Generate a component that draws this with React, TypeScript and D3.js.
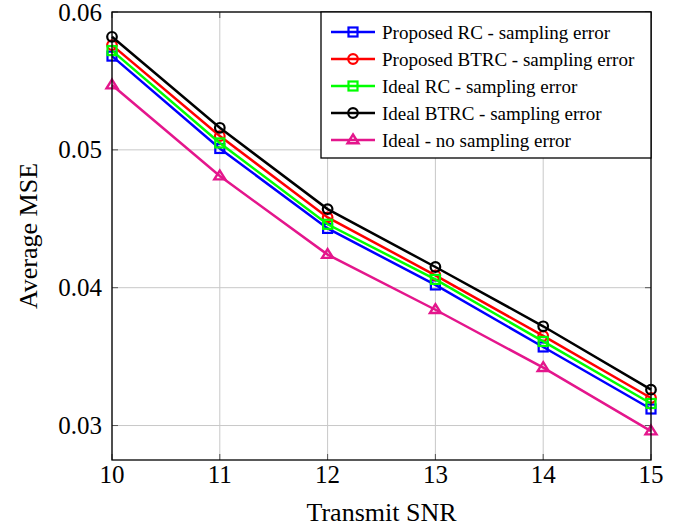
import React from "react";
import * as d3 from "d3";

// Transmit SNR values on the x axis
const snr = [10, 11, 12, 13, 14, 15];

// Average MSE readings per curve
const proposedRC = [0.0568, 0.0501, 0.0443, 0.0402, 0.0357, 0.0312];
const proposedBTRC = [0.0576, 0.051, 0.0451, 0.0409, 0.0365, 0.032];
const idealRC = [0.0572, 0.0505, 0.0446, 0.0406, 0.0361, 0.0316];
const idealBTRC = [0.0582, 0.0516, 0.0457, 0.0415, 0.0372, 0.0326];
const idealNoError = [0.0547, 0.0481, 0.0424, 0.0384, 0.0342, 0.0296];

const xTicks = [10, 11, 12, 13, 14, 15];
const yTicks = [0.03, 0.04, 0.05, 0.06];

const series = [
  { name: "Proposed RC - sampling error", values: proposedRC, color: "#0000ff", marker: "square" },
  { name: "Proposed BTRC - sampling error", values: proposedBTRC, color: "#ff0000", marker: "circle" },
  { name: "Ideal RC - sampling error", values: idealRC, color: "#00ff00", marker: "square" },
  { name: "Ideal BTRC - sampling error", values: idealBTRC, color: "#000000", marker: "circle" },
  { name: "Ideal - no sampling error", values: idealNoError, color: "#e4168c", marker: "triangle" },
];

const width = 688;
const height = 529;
const margin = { top: 12, right: 37, bottom: 69, left: 112 };
const serif = { fontFamily: "Liberation Serif, Times New Roman, Times, serif" };

const Marker = ({ type, x, y, color }: { type: string; x: number; y: number; color: string }) => {
  if (type === "square")
    return <rect x={x - 4.5} y={y - 4.5} width={9} height={9} fill="none" stroke={color} strokeWidth={2.2} />;
  if (type === "circle") return <circle cx={x} cy={y} r={4.8} fill="none" stroke={color} strokeWidth={2.2} />;
  const s = 5.5;
  return (
    <path
      d={`M${x},${y - s} L${x + s},${y + s * 0.6} L${x - s},${y + s * 0.6} Z`}
      fill="none"
      stroke={color}
      strokeWidth={2.4}
    />
  );
};

export default function App() {
  const x = d3.scaleLinear().domain([10, 15]).range([margin.left, width - margin.right]);
  const y = d3.scaleLinear().domain([0.0275, 0.06]).range([height - margin.bottom, margin.top]);
  const line = d3
    .line<number>()
    .x((_, i) => x(snr[i]))
    .y((d) => y(d));

  const x0 = margin.left;
  const x1 = width - margin.right;
  const y0 = height - margin.bottom;
  const y1 = margin.top;

  // legend box in the top right corner
  const legW = 330;
  const legX = x1 - legW;
  const legY = y1;
  const rowH = 27;

  return (
    <svg width={width} height={height} style={{ position: "absolute", left: 0, top: 0, background: "#fff" }}>
      {/* grid */}
      {xTicks.map((t) => (
        <line key={`gx${t}`} x1={x(t)} x2={x(t)} y1={y1} y2={y0} stroke="#c8c8c8" strokeWidth={1} />
      ))}
      {yTicks.map((t) => (
        <line key={`gy${t}`} x1={x0} x2={x1} y1={y(t)} y2={y(t)} stroke="#c8c8c8" strokeWidth={1} />
      ))}

      {/* tick marks inside the box */}
      {xTicks.map((t) => (
        <g key={`tx${t}`}>
          <line x1={x(t)} x2={x(t)} y1={y0} y2={y0 - 6} stroke="#555" strokeWidth={1} />
          <line x1={x(t)} x2={x(t)} y1={y1} y2={y1 + 6} stroke="#555" strokeWidth={1} />
          <text x={x(t)} y={y0 + 23} style={serif} fontSize={25} textAnchor="middle" fill="#000">
            {t}
          </text>
        </g>
      ))}
      {yTicks.map((t) => (
        <g key={`ty${t}`}>
          <line x1={x0} x2={x0 + 6} y1={y(t)} y2={y(t)} stroke="#555" strokeWidth={1} />
          <line x1={x1} x2={x1 - 6} y1={y(t)} y2={y(t)} stroke="#555" strokeWidth={1} />
          <text x={x0 - 10} y={y(t) + 8.5} style={serif} fontSize={25} textAnchor="end" fill="#000">
            {t.toFixed(2)}
          </text>
        </g>
      ))}

      {/* series */}
      {series.map((s) => (
        <g key={s.name}>
          <path d={line(s.values) || ""} fill="none" stroke={s.color} strokeWidth={2.5} />
          {s.values.map((v, i) => (
            <Marker key={i} type={s.marker} x={x(snr[i])} y={y(v)} color={s.color} />
          ))}
        </g>
      ))}

      {/* axis box */}
      <rect x={x0} y={y1} width={x1 - x0} height={y0 - y1} fill="none" stroke="#000" strokeWidth={1.3} />

      {/* legend */}
      <rect x={legX} y={legY} width={legW} height={146} fill="#fff" stroke="#000" strokeWidth={1.3} />
      {series.map((s, i) => {
        const cy = legY + 20 + i * rowH;
        return (
          <g key={`leg${s.name}`}>
            <line x1={legX + 10} x2={legX + 54} y1={cy} y2={cy} stroke={s.color} strokeWidth={2.5} />
            <Marker type={s.marker} x={legX + 32} y={cy} color={s.color} />
            <text x={legX + 61} y={cy + 6.5} style={serif} fontSize={19} fill="#000">
              {s.name}
            </text>
          </g>
        );
      })}

      {/* axis labels */}
      <text x={(x0 + x1) / 2} y={y0 + 61} style={serif} fontSize={26} textAnchor="middle" fill="#000">
        Transmit SNR
      </text>
      <text
        transform={`translate(37, ${(y0 + y1) / 2}) rotate(-90)`}
        style={serif}
        fontSize={26}
        textAnchor="middle"
        fill="#000"
      >
        Average MSE
      </text>
    </svg>
  );
}
